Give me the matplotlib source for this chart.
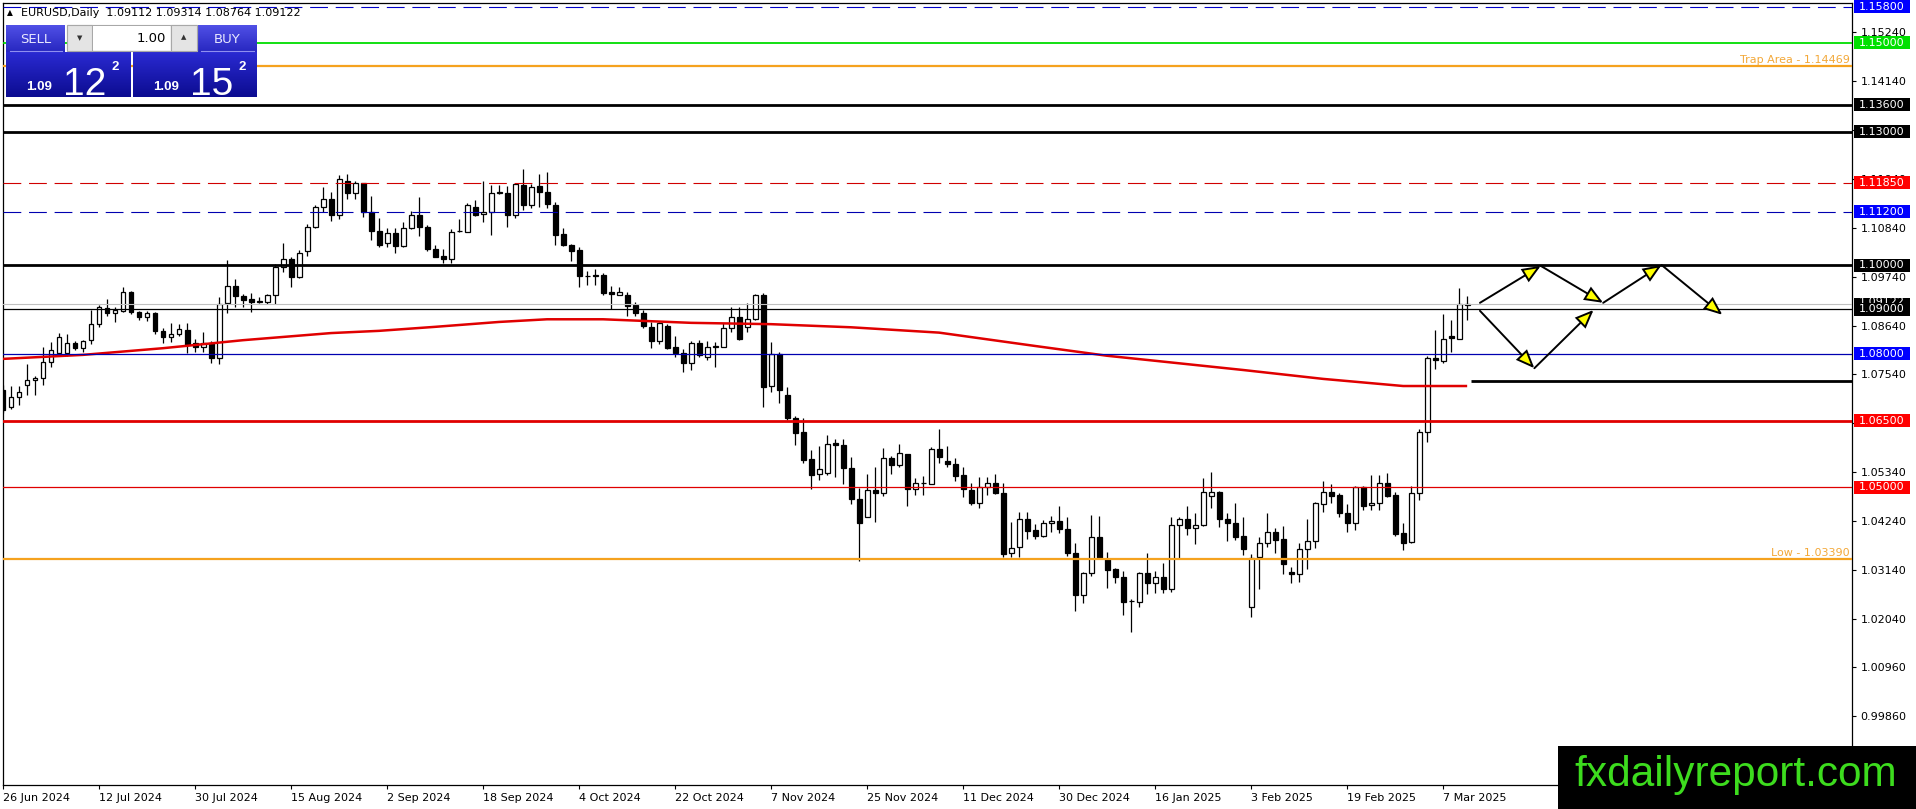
import matplotlib
matplotlib.use('Agg')
import matplotlib.pyplot as plt
import matplotlib.transforms as mtransforms
from matplotlib.patches import Rectangle, FancyArrowPatch
import matplotlib.colors as mcolors
import numpy as np

# ---------------- data ----------------
DATE_LABELS = ['26 Jun 2024', '12 Jul 2024', '30 Jul 2024', '15 Aug 2024', '2 Sep 2024',
               '18 Sep 2024', '4 Oct 2024', '22 Oct 2024', '7 Nov 2024', '25 Nov 2024',
               '11 Dec 2024', '30 Dec 2024', '16 Jan 2025', '3 Feb 2025', '19 Feb 2025',
               '7 Mar 2025']
DATE_BARS = [0, 12, 24, 36, 48, 60, 72, 84, 96, 108, 120, 132, 144, 156, 168, 180]

OPEN = [1.0719, 1.0681, 1.0703, 1.0730, 1.0742, 1.0746, 1.0782, 1.0802, 1.0802, 1.0825,
        1.0813, 1.0831, 1.0867, 1.0903, 1.0892, 1.0897, 1.0939, 1.0894, 1.0883, 1.0892,
        1.0852, 1.0838, 1.0845, 1.0854, 1.0825, 1.0816, 1.0825, 1.0791, 1.0915, 1.0953,
        1.0930, 1.0924, 1.0917, 1.0917, 1.0933, 1.0996, 1.1013, 1.0973, 1.1031, 1.1086,
        1.1130, 1.1148, 1.1112, 1.1189, 1.1162, 1.1184, 1.1119, 1.1076, 1.1049, 1.1072,
        1.1043, 1.1083, 1.1112, 1.1085, 1.1036, 1.1020, 1.1013, 1.1076, 1.1074, 1.1130,
        1.1115, 1.1119, 1.1162, 1.1162, 1.1112, 1.1180, 1.1135, 1.1178, 1.1164, 1.1135,
        1.1070, 1.1045, 1.1034, 1.0975, 1.0976, 1.0978, 1.0939, 1.0933, 1.0933, 1.0910,
        1.0892, 1.0861, 1.0829, 1.0863, 1.0816, 1.0802, 1.0780, 1.0825, 1.0793, 1.0816,
        1.0816, 1.0858, 1.0883, 1.0861, 1.0879, 1.0933, 1.0728, 1.0800, 1.0708, 1.0656,
        1.0625, 1.0564, 1.0530, 1.0533, 1.0600, 1.0595, 1.0544, 1.0474, 1.0434, 1.0494,
        1.0488, 1.0566, 1.0551, 1.0576, 1.0497, 1.0510, 1.0508, 1.0586, 1.0559, 1.0552,
        1.0528, 1.0494, 1.0465, 1.0501, 1.0510, 1.0488, 1.0353, 1.0366, 1.0429, 1.0404,
        1.0391, 1.0420, 1.0425, 1.0407, 1.0353, 1.0258, 1.0308, 1.0389, 1.0339, 1.0317,
        1.0299, 1.0244, 1.0243, 1.0308, 1.0285, 1.0299, 1.0272, 1.0416, 1.0429, 1.0409,
        1.0416, 1.0481, 1.0490, 1.0429, 1.0420, 1.0391, 1.0231, 1.0344, 1.0375, 1.0400,
        1.0384, 1.0310, 1.0306, 1.0362, 1.0380, 1.0463, 1.0490, 1.0483, 1.0443, 1.0420,
        1.0501, 1.0461, 1.0465, 1.0510, 1.0483, 1.0398, 1.0377, 1.0487, 1.0625, 1.0791,
        1.0785, 1.0840, 1.0834, 1.09112]
HIGH = [1.0730, 1.0728, 1.0727, 1.0778, 1.0751, 1.0816, 1.0827, 1.0847, 1.0845, 1.0830,
        1.0831, 1.0899, 1.0910, 1.0924, 1.0906, 1.0951, 1.0942, 1.0897, 1.0897, 1.0895,
        1.0858, 1.0869, 1.0868, 1.0869, 1.0833, 1.0849, 1.0830, 1.0928, 1.1011, 1.0968,
        1.0935, 1.0938, 1.0929, 1.0935, 1.1002, 1.1049, 1.1018, 1.1033, 1.1092, 1.1134,
        1.1175, 1.1164, 1.1202, 1.1205, 1.1188, 1.1184, 1.1155, 1.1105, 1.1083, 1.1083,
        1.1097, 1.1121, 1.1153, 1.1090, 1.1044, 1.1036, 1.1080, 1.1103, 1.1140, 1.1145,
        1.1189, 1.1179, 1.1180, 1.1178, 1.1183, 1.1216, 1.1183, 1.1205, 1.1209, 1.1142,
        1.1084, 1.1048, 1.1040, 1.0987, 1.0990, 1.0981, 1.0952, 1.0950, 1.0939, 1.0916,
        1.0899, 1.0872, 1.0872, 1.0868, 1.0840, 1.0811, 1.0829, 1.0831, 1.0829, 1.0827,
        1.0870, 1.0906, 1.0906, 1.0915, 1.0935, 1.0937, 1.0826, 1.0805, 1.0726, 1.0661,
        1.0656, 1.0584, 1.0593, 1.0618, 1.0609, 1.0610, 1.0569, 1.0499, 1.0530, 1.0546,
        1.0589, 1.0571, 1.0598, 1.0576, 1.0521, 1.0525, 1.0590, 1.0631, 1.0594, 1.0567,
        1.0547, 1.0510, 1.0524, 1.0524, 1.0530, 1.0510, 1.0422, 1.0445, 1.0445, 1.0418,
        1.0426, 1.0436, 1.0458, 1.0434, 1.0375, 1.0309, 1.0438, 1.0436, 1.0355, 1.0319,
        1.0313, 1.0250, 1.0310, 1.0353, 1.0313, 1.0330, 1.0434, 1.0434, 1.0458, 1.0443,
        1.0521, 1.0535, 1.0492, 1.0443, 1.0465, 1.0434, 1.0350, 1.0389, 1.0443, 1.0409,
        1.0413, 1.0321, 1.0375, 1.0429, 1.0467, 1.0515, 1.0508, 1.0488, 1.0463, 1.0503,
        1.0503, 1.0528, 1.0527, 1.0532, 1.0490, 1.0420, 1.0503, 1.0632, 1.0796, 1.0854,
        1.0890, 1.0876, 1.0948, 1.09314]
LOW = [1.0667, 1.0677, 1.0685, 1.0708, 1.0708, 1.0730, 1.0770, 1.0795, 1.0795, 1.0808,
       1.0805, 1.0822, 1.0860, 1.0885, 1.0872, 1.0894, 1.0890, 1.0877, 1.0874, 1.0845,
       1.0825, 1.0827, 1.0840, 1.0802, 1.0804, 1.0804, 1.0780, 1.0777, 1.0892, 1.0905,
       1.0905, 1.0895, 1.0914, 1.0912, 1.0912, 1.0984, 1.0951, 1.0970, 1.1020, 1.1084,
       1.1120, 1.1099, 1.1103, 1.1148, 1.1148, 1.1108, 1.1056, 1.1041, 1.1040, 1.1027,
       1.1040, 1.1080, 1.1065, 1.1032, 1.1017, 1.1005, 1.1005, 1.1075, 1.1074, 1.1110,
       1.1097, 1.1067, 1.1160, 1.1085, 1.1105, 1.1124, 1.1127, 1.1130, 1.1127, 1.1045,
       1.1043, 1.1009, 1.0951, 1.0955, 1.0956, 1.0932, 1.0901, 1.0932, 1.0885, 1.0885,
       1.0858, 1.0813, 1.0822, 1.0811, 1.0793, 1.0760, 1.0763, 1.0793, 1.0787, 1.0771,
       1.0816, 1.0850, 1.0832, 1.0850, 1.0876, 1.0681, 1.0715, 1.0690, 1.0652, 1.0595,
       1.0555, 1.0497, 1.0517, 1.0528, 1.0524, 1.0508, 1.0463, 1.0335, 1.0434, 1.0422,
       1.0480, 1.0530, 1.0546, 1.0458, 1.0484, 1.0482, 1.0508, 1.0554, 1.0546, 1.0514,
       1.0479, 1.0460, 1.0454, 1.0482, 1.0485, 1.0343, 1.0343, 1.0343, 1.0384, 1.0384,
       1.0389, 1.0400, 1.0398, 1.0345, 1.0222, 1.0240, 1.0300, 1.0341, 1.0274, 1.0285,
       1.0213, 1.0175, 1.0231, 1.0260, 1.0262, 1.0262, 1.0266, 1.0341, 1.0393, 1.0373,
       1.0414, 1.0454, 1.0411, 1.0380, 1.0382, 1.0348, 1.0209, 1.0272, 1.0366, 1.0353,
       1.0306, 1.0285, 1.0288, 1.0317, 1.0364, 1.0445, 1.0465, 1.0434, 1.0400, 1.0405,
       1.0450, 1.0450, 1.0450, 1.0478, 1.0392, 1.0359, 1.0375, 1.0472, 1.0602, 1.0766,
       1.0780, 1.0805, 1.0833, 1.08764]
CLOSE = [1.0674, 1.0703, 1.0715, 1.0742, 1.0746, 1.0782, 1.0809, 1.0838, 1.0825, 1.0813,
         1.0829, 1.0867, 1.0906, 1.0892, 1.0899, 1.0939, 1.0894, 1.0883, 1.0892, 1.0852,
         1.0838, 1.0845, 1.0856, 1.0820, 1.0816, 1.0825, 1.0791, 1.0912, 1.0953, 1.0930,
         1.0921, 1.0917, 1.0919, 1.0933, 1.0996, 1.1013, 1.0973, 1.1027, 1.1085, 1.1130,
         1.1148, 1.1112, 1.1193, 1.1162, 1.1184, 1.1119, 1.1076, 1.1045, 1.1072, 1.1043,
         1.1083, 1.1112, 1.1085, 1.1036, 1.1018, 1.1013, 1.1074, 1.1077, 1.1135, 1.1112,
         1.1119, 1.1162, 1.1163, 1.1112, 1.1182, 1.1135, 1.1175, 1.1164, 1.1137, 1.1067,
         1.1046, 1.1032, 1.0975, 1.0976, 1.0978, 1.0937, 1.0935, 1.0939, 1.0908, 1.0892,
         1.0863, 1.0829, 1.0870, 1.0813, 1.0802, 1.0780, 1.0825, 1.0798, 1.0816, 1.0817,
         1.0858, 1.0883, 1.0834, 1.0879, 1.0933, 1.0726, 1.0800, 1.0719, 1.0656, 1.0622,
         1.0562, 1.0528, 1.0541, 1.0598, 1.0596, 1.0544, 1.0474, 1.0420, 1.0494, 1.0488,
         1.0566, 1.0551, 1.0578, 1.0497, 1.0510, 1.0511, 1.0586, 1.0568, 1.0552, 1.0526,
         1.0497, 1.0465, 1.0501, 1.0510, 1.0488, 1.0350, 1.0364, 1.0429, 1.0402, 1.0391,
         1.0420, 1.0425, 1.0407, 1.0353, 1.0258, 1.0308, 1.0389, 1.0341, 1.0315, 1.0299,
         1.0243, 1.0244, 1.0308, 1.0285, 1.0299, 1.0272, 1.0416, 1.0429, 1.0409, 1.0416,
         1.0490, 1.0490, 1.0429, 1.0420, 1.0389, 1.0362, 1.0341, 1.0375, 1.0400, 1.0382,
         1.0328, 1.0306, 1.0362, 1.0380, 1.0465, 1.0490, 1.0481, 1.0443, 1.0420, 1.0501,
         1.0458, 1.0465, 1.0510, 1.0481, 1.0395, 1.0375, 1.0487, 1.0625, 1.0791, 1.0787,
         1.0834, 1.0836, 1.0912, 1.09122]

# moving average (at a few bars)
MA_BARS = [0, 10, 20, 30, 41, 47, 54, 62, 68, 75, 86, 96, 106, 117, 129, 138, 155, 165, 175, 183]
MA_VALUES = [1.0789, 1.0798, 1.0813, 1.0831, 1.0847, 1.0852, 1.0861, 1.0872, 1.0878, 1.0878,
             1.0870, 1.0867, 1.0860, 1.0848, 1.0818, 1.0796, 1.0764, 1.0744, 1.0728, 1.0728]

Y_TICKS = [1.15240, 1.14140, 1.13040, 1.11940, 1.10840, 1.09740, 1.08640, 1.07540,
           1.06440, 1.05340, 1.04240, 1.03140, 1.02040, 1.00960, 0.99860]

# horizontal levels
LEVEL_PRICES = [1.15800, 1.15000, 1.14469, 1.13600, 1.13000, 1.11850, 1.11200, 1.10000,
                1.09122, 1.09000, 1.08000, 1.06500, 1.05000, 1.03390]
LEVEL_TEXTS = {1.14469: 'Trap Area - 1.14469', 1.03390: 'Low - 1.03390'}
SHORT_LEVEL = 1.0740
SHORT_LEVEL_START = 183.5

# scenario arrows (bar, price)
PATH_UP = [(184.6, 1.0915), (192.2, 1.0998), (200.0, 1.0915), (207.3, 1.1000), (214.9, 1.0888)]
PATH_DOWN = [(184.6, 1.0897), (191.4, 1.0768), (198.8, 1.0899)]

HEADER = 'EURUSD,Daily  1.09112 1.09314 1.08764 1.09122'
PANEL_BIG = ['12', '15']
PANEL_SMALL = '1.09'
PANEL_SUP = '2'
LOT = '1.00'

# ---------------- figure ----------------
W, H = 1916, 809
fig = plt.figure(figsize=(W / 100, H / 100), dpi=100)
fig.patch.set_facecolor('white')

L, R, T, B = 3, 1852, 3, 785
YMIN, YMAX = 0.98312, 1.15889
ax = fig.add_axes([L / W, 1 - B / H, (R - L) / W, (B - T) / H])
ax.set_facecolor('white')
ax.set_xlim(0, 231.1)
ax.set_ylim(YMIN, YMAX)
for s in ax.spines.values():
    s.set_color('black')
    s.set_linewidth(0.9)

# candles
x = np.arange(len(CLOSE))
o = np.array(OPEN); c = np.array(CLOSE); hi = np.array(HIGH); lo = np.array(LOW)
ax.vlines(x, lo, hi, color='black', linewidth=0.9, zorder=3)
bull = c >= o
body_bottom = np.minimum(o, c)
body_h = np.abs(c - o)
ax.bar(x, body_h, bottom=body_bottom, width=0.62,
       color=np.where(bull, 'white', 'black'), edgecolor='black', linewidth=0.9, zorder=4)

# moving average
ax.plot(MA_BARS, MA_VALUES, color='#e00000', linewidth=1.8, zorder=5, solid_capstyle='butt')

# level styles
DASH = (0, (16, 7))
style = {
    1.15800: dict(color='#0000c8', lw=0.8, ls=DASH, box='#0000ff'),
    1.15000: dict(color='#00dd00', lw=1.3, ls='-', box='#00e000'),
    1.14469: dict(color='#f5a21e', lw=1.6, ls='-', box=None),
    1.13600: dict(color='black', lw=2.0, ls='-', box='black'),
    1.13000: dict(color='black', lw=2.0, ls='-', box='black'),
    1.11850: dict(color='#d00000', lw=0.8, ls=DASH, box='#ff0000'),
    1.11200: dict(color='#0000b0', lw=0.8, ls=DASH, box='#0000ff'),
    1.10000: dict(color='black', lw=2.0, ls='-', box='black'),
    1.09122: dict(color='#c0c0c0', lw=0.8, ls='-', box='black'),
    1.09000: dict(color='black', lw=0.9, ls='-', box='black'),
    1.08000: dict(color='#0000b0', lw=0.9, ls='-', box='#0000ff'),
    1.06500: dict(color='#e00000', lw=2.0, ls='-', box='#ff0000'),
    1.05000: dict(color='#e00000', lw=0.9, ls='-', box='#ff0000'),
    1.03390: dict(color='#f5a21e', lw=1.6, ls='-', box=None),
}
blend = mtransforms.blended_transform_factory(ax.transAxes, ax.transData)
px_per_unit = (B - T) / (YMAX - YMIN)
for p in LEVEL_PRICES:
    st = style[p]
    ax.axhline(p, color=st['color'], linewidth=st['lw'], linestyle=st['ls'], zorder=5)
    if st['box'] is not None:
        hb = 13 / px_per_unit
        x0 = (1854 - L) / (R - L)
        wb = 56 / (R - L)
        hidden = (p == 1.09122)
        ax.add_patch(Rectangle((x0, p - hb / 2), wb, hb, transform=blend,
                               facecolor=st['box'], edgecolor='none', clip_on=False,
                               zorder=6.5 if hidden else 7))
        if hidden:
            # only the upper sliver of this label shows above the 1.09000 box
            ax.text((1859 - L) / (R - L), p + 2.5 / px_per_unit, '%.5f' % p, transform=blend,
                    color='white', fontsize=8, va='center', ha='left', clip_on=False,
                    zorder=6.6, family='DejaVu Sans')
        else:
            ax.text((1859 - L) / (R - L), p, '%.5f' % p, transform=blend, color='white',
                    fontsize=8, va='center', ha='left', clip_on=False,
                    zorder=7.1, family='DejaVu Sans')
    if p in LEVEL_TEXTS:
        ax.text((1850 - L) / (R - L), p + 1.5 / px_per_unit, LEVEL_TEXTS[p], transform=blend,
                color='#f3a838', fontsize=8, ha='right', va='bottom', zorder=6)

ax.hlines(SHORT_LEVEL, SHORT_LEVEL_START, 231.1, color='black', linewidth=2.0, zorder=5)

# arrows
def draw_path(path):
    for (x0, y0), (x1, y1) in zip(path[:-1], path[1:]):
        a = FancyArrowPatch((x0, y0), (x1, y1),
                            arrowstyle='-|>,head_length=1.1,head_width=0.45',
                            mutation_scale=10, shrinkA=0, shrinkB=0,
                            facecolor='#ffff00', edgecolor='black', linewidth=1.4,
                            zorder=8, joinstyle='miter')
        ax.add_patch(a)

draw_path(PATH_UP)
draw_path(PATH_DOWN)

# axes ticks
ax.yaxis.tick_right()
ax.set_yticks(Y_TICKS)
ax.set_yticklabels(['%.5f' % v for v in Y_TICKS])
ax.tick_params(axis='y', direction='out', length=3, width=0.8, pad=3, labelsize=8,
               colors='black')
ax.set_xticks(DATE_BARS)
ax.set_xticklabels(DATE_LABELS)
ax.tick_params(axis='x', direction='out', length=3, width=0.8, pad=3, labelsize=8)
for lab in ax.get_xticklabels():
    lab.set_ha('left')

# ---------------- overlay (trade panel, header, watermark) ----------------
ov = fig.add_axes([0, 0, 1, 1], zorder=10)
ov.set_xlim(0, W)
ov.set_ylim(H, 0)
ov.axis('off')
ov.patch.set_alpha(0)


def grad(x0, y0, x1, y1, ctop, cbot, z=1):
    c0 = np.array(mcolors.to_rgb(ctop))
    c1 = np.array(mcolors.to_rgb(cbot))
    t = np.linspace(0, 1, 64)[:, None]
    img = (c0 * (1 - t) + c1 * t)[:, None, :]
    ov.imshow(img, extent=(x0, x1, y1, y0), aspect='auto', zorder=z, interpolation='bilinear')


ov.text(7, 13, '▲', fontsize=5.5, va='center', ha='left', color='black')
ov.text(21, 13, HEADER, fontsize=8, va='center', ha='left', color='black')

# SELL / BUY buttons
grad(6, 25, 65, 52, '#5050e6', '#2727c0')
grad(198, 25, 257, 52, '#5050e6', '#2727c0')
ov.plot([10, 62], [51, 51], color='#8f8ff0', lw=0.8, zorder=2)
ov.plot([201, 254], [51, 51], color='#8f8ff0', lw=0.8, zorder=2)
ov.text(36, 39, 'SELL', color='#e8e8ff', fontsize=9.5, ha='center', va='center', zorder=3)
ov.text(227, 39, 'BUY', color='#e8e8ff', fontsize=9.5, ha='center', va='center', zorder=3)

# lot box
ov.add_patch(Rectangle((67, 25), 130, 26, facecolor='#f4f4f4', edgecolor='#a8a8a8', lw=0.8, zorder=2))
ov.add_patch(Rectangle((67, 25), 25, 26, facecolor='#e4e4e4', edgecolor='#a8a8a8', lw=0.8, zorder=2))
ov.add_patch(Rectangle((171, 25), 26, 26, facecolor='#e4e4e4', edgecolor='#a8a8a8', lw=0.8, zorder=2))
ov.add_patch(Rectangle((93, 26), 77, 24, facecolor='white', edgecolor='none', zorder=2))
ov.text(79.5, 38, '▼', fontsize=5, ha='center', va='center', color='#333333', zorder=3)
ov.text(184, 37, '▲', fontsize=5, ha='center', va='center', color='#333333', zorder=3)
ov.text(166, 38, LOT, fontsize=9.5, ha='right', va='center', color='black', zorder=3)

# price boxes
grad(6, 52, 131, 97, '#2a2ad2', '#0c0c90')
grad(133, 52, 257, 97, '#2a2ad2', '#0c0c90')
for xs, big in zip([6, 133], PANEL_BIG):
    ov.text(xs + 20, 90, PANEL_SMALL, fontsize=9.5, fontweight='bold', color='white',
            ha='left', va='baseline', family='Liberation Sans', zorder=3)
    ov.text(xs + 57, 95, big, fontsize=28, color='white', ha='left', va='baseline',
            family='Liberation Sans', zorder=3)
    ov.text(xs + 106, 70, PANEL_SUP, fontsize=9.5, fontweight='bold', color='white',
            ha='left', va='baseline', family='Liberation Sans', zorder=3)

# watermark
ov.add_patch(Rectangle((1558, 746), W - 1558, H - 746, facecolor='black', edgecolor='none', zorder=4))
ov.text(1736, 786, 'fxdailyreport.com', fontsize=30.5, color='#3ddc1e', ha='center',
        va='baseline', family='Liberation Sans', zorder=5)

ov.set_xlim(0, W)
ov.set_ylim(H, 0)

fig.savefig('out.png', dpi=100, facecolor='white')
